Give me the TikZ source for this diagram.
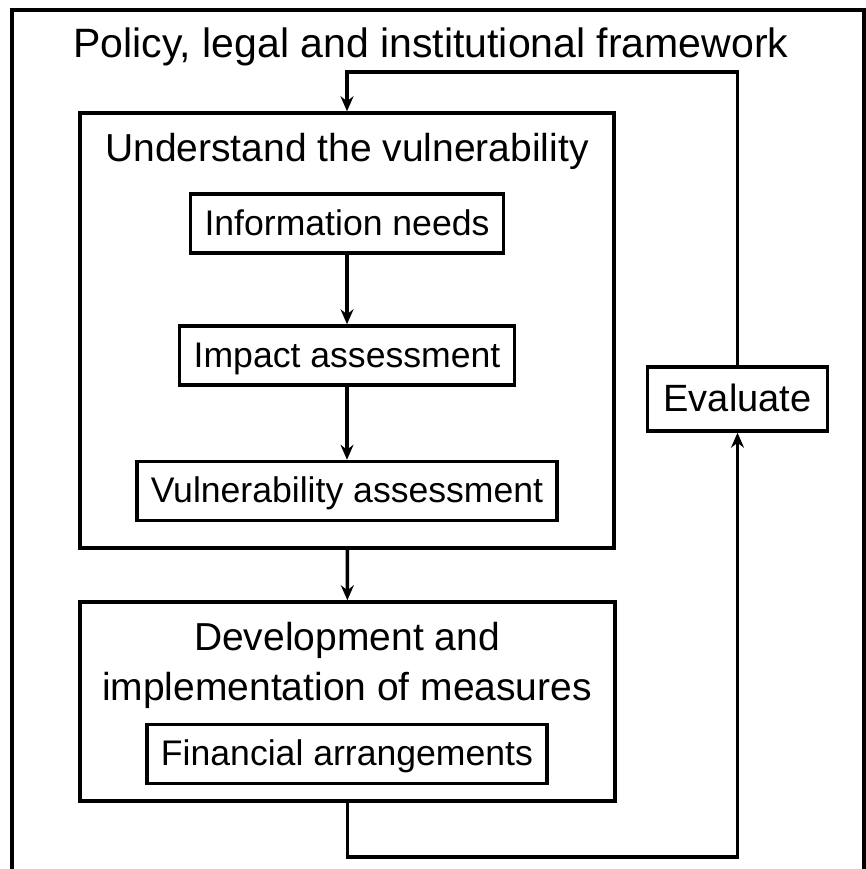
\documentclass[tikz,border=0pt]{standalone}
\usepackage{fontspec}
\setmainfont{Liberation Sans}
\usepackage{tikz}
\usetikzlibrary{positioning, arrows.meta}

\begin{document}
\begin{tikzpicture}[x=1pt, y=-1pt,
    frame/.style={draw, line width=3.5pt},
    stagebox/.style={draw, line width=3.5pt, inner sep=0pt},
    taskbox/.style={draw, line width=3.5pt, inner xsep=14pt, inner ysep=0pt,
        minimum height=59pt, text height=25.5pt, text depth=2pt,
        font=\fontsize{35.6}{43}\selectfont},
    bigtext/.style={font=\fontsize{39}{50}\selectfont},
    flow/.style={line width=3.5pt, -{Stealth[length=15pt, width=13pt, inset=5pt]}}]
    \useasboundingbox (0,0) rectangle (865,869);
    \draw[frame] (12,10) rectangle (864,890);
    \node[font=\fontsize{41}{48}\selectfont, anchor=base] (policy) at (431,58)
        {Policy, legal and institutional framework};

    % Understand the vulnerability
    \node[stagebox, minimum width=534pt, minimum height=435pt] (understand) at (347,330.5) {};
    \node[bigtext, anchor=base] (utitle) at (347,162) {Understand the vulnerability};
    \node[taskbox] (info) at (347,223.5) {Information needs};
    \node[taskbox] (impact) at (347,355.5) {Impact assessment};
    \node[taskbox] (vulner) at (347,491) {Vulnerability assessment};
    \draw[flow] (info) -- (impact);
    \draw[flow] (impact) -- (vulner);

    % Development and implementation
    \node[stagebox, minimum width=535pt, minimum height=199pt] (develop) at (347.5,701.5) {};
    \node[bigtext, align=center] (dtitle) at (347,665)
        {Development and\\implementation of measures};
    \node[taskbox] (finance) at (347,754) {Financial arrangements};
    \draw[flow] (understand) -- (develop);

    % Evaluate and feedback loop
    \node[taskbox, font=\fontsize{38}{46}\selectfont, minimum height=64pt, inner xsep=16pt,
        text height=27pt] (evaluate) at (737.5,399) {Evaluate};
    \coordinate (fbtop) at (737.5,72);
    \coordinate (fbbot) at (737.5,857);
    \draw[flow] (evaluate.north) |- (fbtop) -| (understand.north);
    \draw[flow] (develop.south) |- (fbbot) -- (evaluate.south);
\end{tikzpicture}
\end{document}
